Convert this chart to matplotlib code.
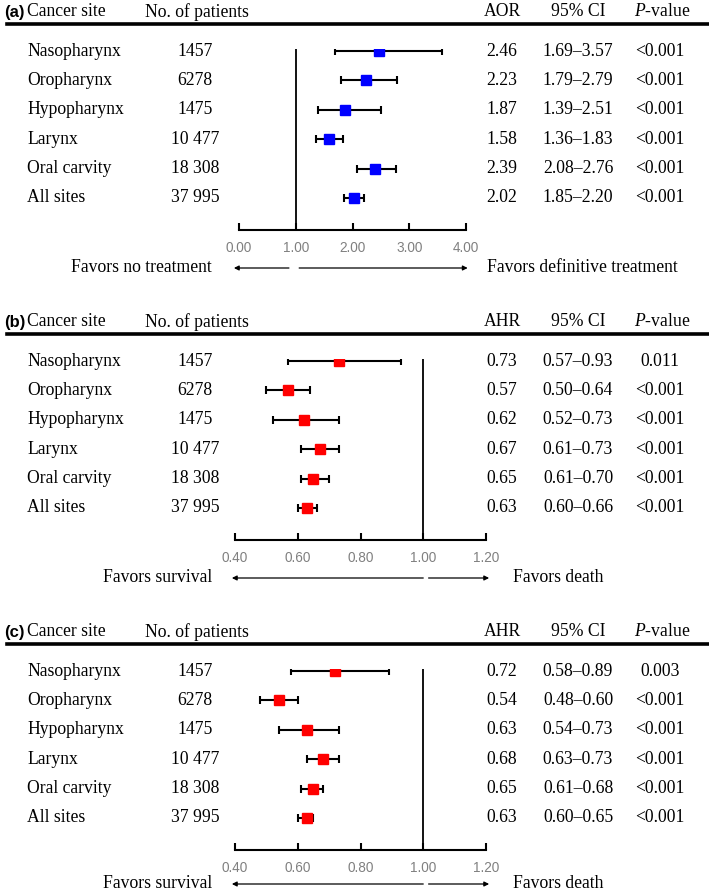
import matplotlib
matplotlib.use("Agg")
import matplotlib.pyplot as plt
from matplotlib.transforms import blended_transform_factory
from matplotlib.lines import Line2D

plt.rcParams['font.family'] = ['Liberation Serif', 'DejaVu Serif']
plt.rcParams['mathtext.fontset'] = 'custom'
plt.rcParams['mathtext.rm'] = 'Liberation Serif'
plt.rcParams['mathtext.it'] = 'Liberation Serif:italic'

# shared row labels
sites = ["Nasopharynx", "Oropharynx", "Hypopharynx", "Larynx", "Oral carvity", "All sites"]
patients = ["1457", "6278", "1475", "10 477", "18 308", "37 995"]

# (a) adjusted odds ratio
a_est = [2.46, 2.23, 1.87, 1.58, 2.39, 2.02]
a_lo = [1.69, 1.79, 1.39, 1.36, 2.08, 1.85]
a_hi = [3.57, 2.79, 2.51, 1.83, 2.76, 2.20]
a_p = ["<0.001"] * 6

# (b) adjusted hazard ratio
b_est = [0.73, 0.57, 0.62, 0.67, 0.65, 0.63]
b_lo = [0.57, 0.50, 0.52, 0.61, 0.61, 0.60]
b_hi = [0.93, 0.64, 0.73, 0.73, 0.70, 0.66]
b_p = ["0.011", "<0.001", "<0.001", "<0.001", "<0.001", "<0.001"]

# (c) adjusted hazard ratio
c_est = [0.72, 0.54, 0.63, 0.68, 0.65, 0.63]
c_lo = [0.58, 0.48, 0.54, 0.63, 0.61, 0.60]
c_hi = [0.89, 0.60, 0.73, 0.73, 0.68, 0.65]
c_p = ["0.003", "<0.001", "<0.001", "<0.001", "<0.001", "<0.001"]

a_ticks = [0.0, 1.0, 2.0, 3.0, 4.0]
bc_ticks = [0.4, 0.6, 0.8, 1.0, 1.2]

W, H = 709, 894
fig = plt.figure(figsize=(W / 100, H / 100), dpi=100)


def fx(px):
    return px / W


def fy(py):
    return 1 - py / H


panels = [
    dict(tag="(a)", off=0, ratio="AOR", est=a_est, lo=a_lo, hi=a_hi, p=a_p,
         color="#0000ff", ticks=a_ticks, xpix=(239, 466),
         left_txt="Favors no treatment", right_txt="Favors definitive treatment",
         left_arrow=(0.88, -0.09), right_arrow=(1.06, 4.03), right_txt_x=487),
    dict(tag="(b)", off=310, ratio="AHR", est=b_est, lo=b_lo, hi=b_hi, p=b_p,
         color="#ff0000", ticks=bc_ticks, xpix=(235, 486),
         left_txt="Favors survival", right_txt="Favors death",
         left_arrow=(1.0, 0.39), right_arrow=(1.017, 1.21), right_txt_x=513),
    dict(tag="(c)", off=620, ratio="AHR", est=c_est, lo=c_lo, hi=c_hi, p=c_p,
         color="#ff0000", ticks=bc_ticks, xpix=(235, 486),
         left_txt="Favors survival", right_txt="Favors death",
         left_arrow=(1.0, 0.39), right_arrow=(1.017, 1.21), right_txt_x=513),
]

fs = 12.7
row0, step = 51, 29.4
top_pix, axis_pix = 49, 230

for pn in panels:
    off = pn["off"]
    x0, x1 = pn["xpix"]
    ax = fig.add_axes([fx(x0), fy(axis_pix + off), fx(x1 - x0),
                       (axis_pix - top_pix) / H])
    t0, t1 = pn["ticks"][0], pn["ticks"][-1]
    ax.set_xlim(t0, t1)
    ax.set_ylim((axis_pix - row0) / step, (top_pix - row0) / step)

    ys = list(range(len(sites)))
    err = [[e - l for e, l in zip(pn["est"], pn["lo"])],
           [h - e for e, h in zip(pn["est"], pn["hi"])]]
    ax.errorbar(pn["est"], ys, xerr=err, fmt="s", color=pn["color"],
                ms=7.8, mec=pn["color"], ecolor="black", elinewidth=1.5,
                capsize=3, capthick=1.5, zorder=3)
    ax.axvline(1.0, color="black", lw=1.3)

    for s in ["top", "right", "left"]:
        ax.spines[s].set_visible(False)
    ax.spines["bottom"].set_linewidth(1.5)
    ax.set_yticks([])
    ax.set_xticks(pn["ticks"])
    ax.set_xticklabels(["%.2f" % t for t in pn["ticks"]],
                       fontfamily="Liberation Sans", fontsize=9.8, color="#808080")
    ax.tick_params(axis="x", direction="in", length=5, width=1.5, pad=8)

    # row table
    tr = blended_transform_factory(fig.transFigure, ax.transData)
    for i in ys:
        ax.text(fx(27), i, sites[i], transform=tr, ha="left", va="center", fontsize=fs)
        ax.text(fx(195), i, patients[i], transform=tr, ha="center", va="center", fontsize=fs)
        ax.text(fx(502), i, "%.2f" % pn["est"][i], transform=tr, ha="center", va="center", fontsize=fs)
        ax.text(fx(578), i, "%.2f\u2013%.2f" % (pn["lo"][i], pn["hi"][i]), transform=tr,
                ha="center", va="center", fontsize=fs)
        ax.text(fx(660), i, pn["p"][i], transform=tr, ha="center", va="center", fontsize=fs)

    # header
    hy = fy(12 + off)
    fig.text(fx(4), hy, pn["tag"], ha="left", va="center", fontsize=12,
             fontweight="bold", fontfamily="Liberation Sans")
    fig.text(fx(27), hy, "Cancer site", ha="left", va="center", fontsize=fs)
    fig.text(fx(145), hy, "No. of patients", ha="left", va="center", fontsize=fs)
    fig.text(fx(502), hy, pn["ratio"], ha="center", va="center", fontsize=fs)
    fig.text(fx(578), hy, "95% CI", ha="center", va="center", fontsize=fs)
    fig.text(fx(662), hy, r"$P$-value", ha="center", va="center", fontsize=fs)
    fig.add_artist(Line2D([fx(7), 1.0], [fy(24 + off)] * 2, transform=fig.transFigure,
                          color="black", lw=2.6))

    # favors labels and arrows (last one nudged up so it stays on the canvas)
    fyv = min(268 + off, 884)
    fig.text(fx(212), fy(fyv), pn["left_txt"], ha="right", va="center", fontsize=fs)
    fig.text(fx(pn["right_txt_x"]), fy(fyv), pn["right_txt"], ha="left", va="center", fontsize=fs)
    atr = blended_transform_factory(ax.transData, fig.transFigure)
    for a, b in [pn["left_arrow"], pn["right_arrow"]]:
        ax.annotate("", xy=(b, fy(fyv)), xytext=(a, fy(fyv)), xycoords=atr, textcoords=atr,
                    arrowprops=dict(arrowstyle="-|>", color="black", lw=0.9,
                                    mutation_scale=7, shrinkA=0, shrinkB=0),
                    annotation_clip=False)

fig.savefig("out.png", dpi=100)
